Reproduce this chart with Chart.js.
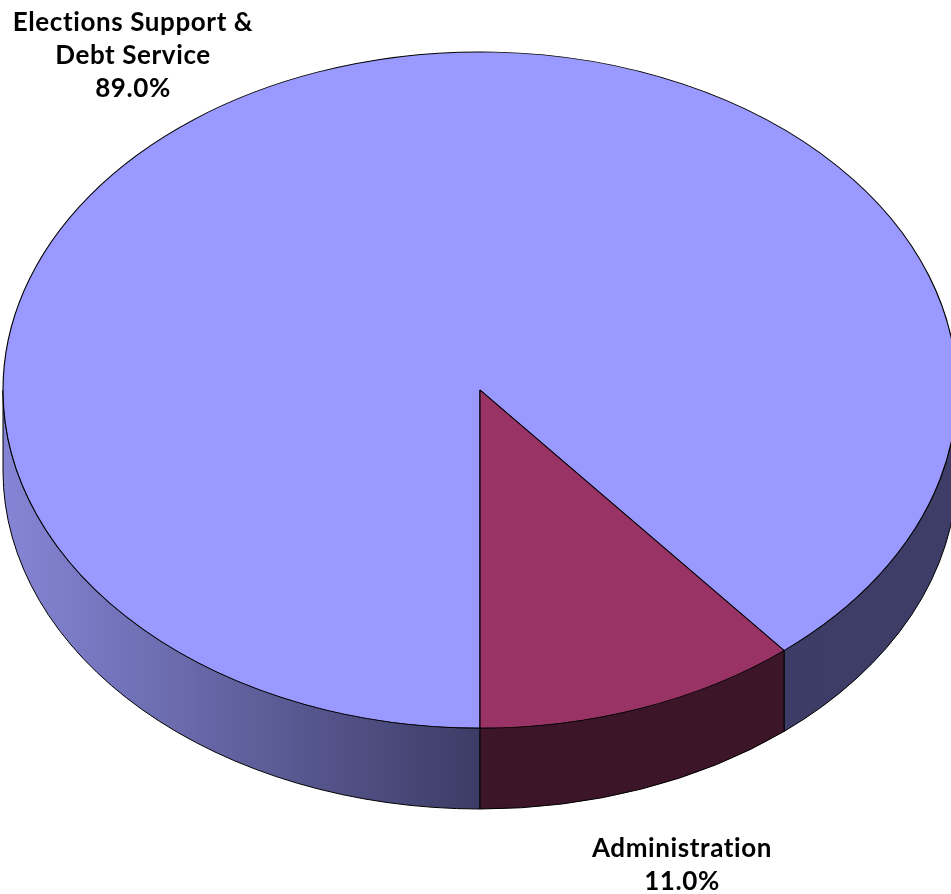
<!DOCTYPE html>
<html>
<head>
<meta charset="utf-8">
<script src="https://cdn.jsdelivr.net/npm/chart.js@4"></script>
<style>
  html, body { margin: 0; padding: 0; background: #ffffff; }
  canvas { display: block; }
</style>
</head>
<body>
<canvas id="budget-pie" width="951" height="894"></canvas>
<script>
// Budget split
const categories = ['Elections Support & Debt Service', 'Administration'];
const labelLines = [['Elections Support &', 'Debt Service'], ['Administration']];
const shares = [89.0, 11.0];

const topColors = ['#9999ff', '#993366'];
const sideColors = ['#3d3d66', '#3d1529'];

// tilt settings for the fake 3D look
const stretchX = 477 / 338;
const depth = 81;
const labelFont = 'bold 26px Lato, "Open Sans", sans-serif';
const lineHeight = 33;
const labelSpots = [[133, 31], [682, 857]];

// Draws the visible rim of every slice, then widens the pie into an ellipse
const tiltPlugin = {
    id: 'tilt',
    beforeDatasetsDraw(chart) {
        const ctx = chart.ctx;
        const arcs = chart.getDatasetMeta(0).data;
        if (!arcs.length) return;
        const cx = arcs[0].x;
        const cy = arcs[0].y;
        const ry = arcs[0].outerRadius;
        const rx = ry * stretchX;

        // shading runs from lit left edge to the dark middle
        const grad = ctx.createLinearGradient(cx - rx, 0, cx + rx, 0);
        grad.addColorStop(0, '#8585d6');
        grad.addColorStop(0.5, '#3c3c66');
        grad.addColorStop(1, '#3d3d68');

        ctx.save();
        ctx.lineWidth = 1;
        ctx.strokeStyle = '#000000';
        arcs.forEach((arc, i) => {
            const s = arc.startAngle;
            const e = arc.endAngle;
            for (let k = -1; k <= 2; k++) {
                const lo = Math.max(s, 2 * Math.PI * k);
                const hi = Math.min(e, 2 * Math.PI * k + Math.PI);
                if (hi <= lo) continue;
                ctx.beginPath();
                ctx.ellipse(cx, cy, rx, ry, 0, lo, hi);
                ctx.ellipse(cx, cy + depth, rx, ry, 0, hi, lo, true);
                ctx.closePath();
                ctx.fillStyle = i === 0 ? grad : sideColors[i];
                ctx.fill();
                ctx.stroke();
            }
        });
        ctx.restore();

        ctx.save();
        ctx.translate(cx, 0);
        ctx.scale(stretchX, 1);
        ctx.translate(-cx, 0);
    },
    afterDatasetsDraw(chart) {
        chart.ctx.restore();
    },
    afterDraw(chart) {
        const ctx = chart.ctx;
        ctx.save();
        ctx.font = labelFont;
        ctx.letterSpacing = '0.6px';
        ctx.fillStyle = '#000000';
        ctx.textAlign = 'center';
        ctx.textBaseline = 'alphabetic';
        labelLines.forEach((lines, i) => {
            const rows = lines.concat([shares[i].toFixed(1) + '%']);
            const [x, y] = labelSpots[i];
            rows.forEach((row, r) => ctx.fillText(row, x, y + r * lineHeight));
        });
        ctx.restore();
    }
};

const ctx = document.getElementById('budget-pie').getContext('2d');
new Chart(ctx, {
    type: 'pie',
    data: {
        labels: categories,
        datasets: [{
            data: shares,
            backgroundColor: topColors,
            borderColor: '#000000',
            borderWidth: 0.8
        }]
    },
    options: {
        responsive: false,
        animation: false,
        events: [],
        rotation: 180,
        radius: 338,
        layout: { padding: { left: 9, right: 0, top: 0, bottom: 114 } },
        plugins: {
            legend: { display: false },
            tooltip: { enabled: false }
        }
    },
    plugins: [tiltPlugin]
});
</script>
</body>
</html>
